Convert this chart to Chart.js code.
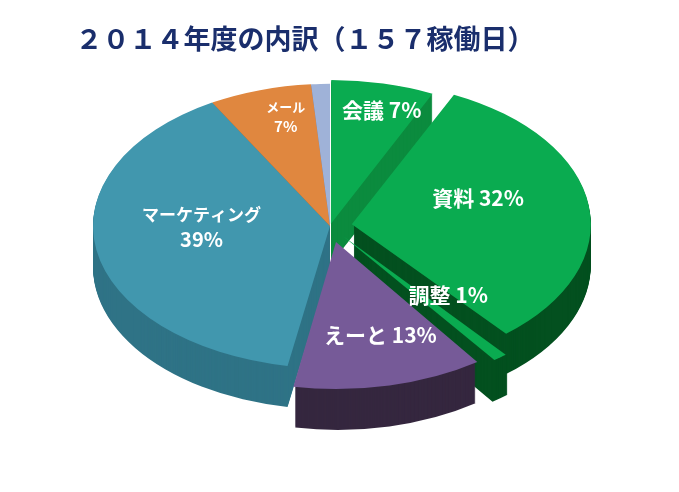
<!DOCTYPE html>
<html><head><meta charset="utf-8">
<script src="https://cdn.jsdelivr.net/npm/chart.js@4.4.1/dist/chart.umd.min.js"></script>
<style>html,body{margin:0;padding:0;background:#fff;overflow:hidden}</style>
</head><body>
<canvas id="c" width="679" height="492"></canvas>
<script>
// ---- data ----
const titleText = '２０１４年度の内訳（１５７稼働日）';
const categories = ['会議', '資料', '調整', 'えーと', 'マーケティング', 'メール', 'その他'];
const days = [11, 50, 2, 20, 61, 11, 2];
const showLabel = [true, true, true, true, true, true, false];

// ---- style ----
const topColors  = ['#0aab50', '#0aab50', '#0aab50', '#765a98', '#4197ae', '#e0873f', '#9fb2d8'];
const sideColors = ['#0b8b3e', '#03501f', '#03501f', '#35273f', '#2f7386', '#a85e25', '#6f7fa0'];
const explodeOffsets = [16, 88, 84, 110, 0, 0, 0];
const labelFrac = [0.78, 0.55, 0.54, 0.67, 0.55, 0.76, 0];
const labelNudge = [[10, -4], [-5, -16], [15, -11], [8, -5], [0, -12], [9, -6], [0, 0]];
const labelLayout = [
  { lines: 1, sizes: [21] }, { lines: 1, sizes: [21] }, { lines: 1, sizes: [21] },
  { lines: 1, sizes: [21] }, { lines: 2, sizes: [17, 20] }, { lines: 2, sizes: [13, 15] }, { lines: 0, sizes: [] }
];
const TILT = 0.6, DEPTH = 41, FONT = '"Noto Sans CJK JP", "Noto Sans", sans-serif';

const total = days.reduce((a, b) => a + b, 0);
function pct(i) { return Math.round(days[i] / total * 100) + '%'; }

function effOffset(a) {
  const off = a.options.offset || 0;
  const circ = a.endAngle - a.startAngle;
  return off / 4 * (2 - Math.sin(Math.min(Math.PI, circ)));
}
function squash(ctx, cx, cy, dy) {
  ctx.translate(cx, cy + dy); ctx.scale(1, TILT); ctx.translate(-cx, -cy);
}
function arcPath(ctx, a) {
  const mid = (a.startAngle + a.endAngle) / 2, off = effOffset(a);
  const ox = a.x + Math.cos(mid) * off, oy = a.y + Math.sin(mid) * off;
  ctx.beginPath(); ctx.moveTo(ox, oy);
  ctx.arc(ox, oy, a.outerRadius, a.startAngle, a.endAngle); ctx.closePath();
}

const pie3d = {
  id: 'pie3d',
  beforeDatasetsDraw(chart) {
    const ctx = chart.ctx, arcs = chart.getDatasetMeta(0).data;
    const cx = arcs[0].x, cy = arcs[0].y;
    for (let d = DEPTH; d >= 1; d--) {
      ctx.save(); squash(ctx, cx, cy, d);
      arcs.forEach((a, i) => { arcPath(ctx, a); ctx.fillStyle = sideColors[i]; ctx.fill(); });
      ctx.restore();
    }
    ctx.save(); squash(ctx, cx, cy, 0);
  },
  afterDatasetsDraw(chart) {
    const ctx = chart.ctx; ctx.restore();
    const arcs = chart.getDatasetMeta(0).data;
    ctx.save();
    ctx.fillStyle = '#ffffff'; ctx.textAlign = 'center'; ctx.textBaseline = 'middle';
    arcs.forEach((a, i) => {
      if (!showLabel[i]) return;
      const mid = (a.startAngle + a.endAngle) / 2;
      const r = effOffset(a) + labelFrac[i] * a.outerRadius;
      const px = a.x + Math.cos(mid) * r + labelNudge[i][0];
      const py = a.y + Math.sin(mid) * r * TILT + labelNudge[i][1];
      const L = labelLayout[i];
      if (L.lines === 1) {
        ctx.font = 'bold ' + L.sizes[0] + 'px ' + FONT;
        ctx.fillText(categories[i] + ' ' + pct(i), px, py);
      } else {
        const gap = (L.sizes[0] + L.sizes[1]) * 0.68;
        ctx.font = 'bold ' + L.sizes[0] + 'px ' + FONT;
        ctx.fillText(categories[i], px, py - gap / 2);
        ctx.font = 'bold ' + L.sizes[1] + 'px ' + FONT;
        ctx.fillText(pct(i), px, py + gap / 2);
      }
    });
    ctx.restore();
  },
  afterDraw(chart) {
    const ctx = chart.ctx; ctx.save();
    ctx.font = 'bold 27px ' + FONT; ctx.fillStyle = '#1a2e6c';
    ctx.textAlign = 'center'; ctx.textBaseline = 'middle';
    ctx.fillText(titleText, 305, 39);
    ctx.restore();
  }
};

new Chart(document.getElementById('c'), {
  type: 'pie',
  data: {
    labels: categories,
    datasets: [{
      data: days,
      backgroundColor: topColors,
      borderWidth: 0,
      offset: explodeOffsets,
      radius: 237,
      clip: false
    }]
  },
  options: {
    responsive: false,
    animation: false,
    events: [],
    layout: { padding: { left: 0, right: 19, top: 0, bottom: 40 } },
    plugins: { legend: { display: false }, tooltip: { enabled: false }, title: { display: false } }
  },
  plugins: [pie3d]
});
</script>
</body></html>
